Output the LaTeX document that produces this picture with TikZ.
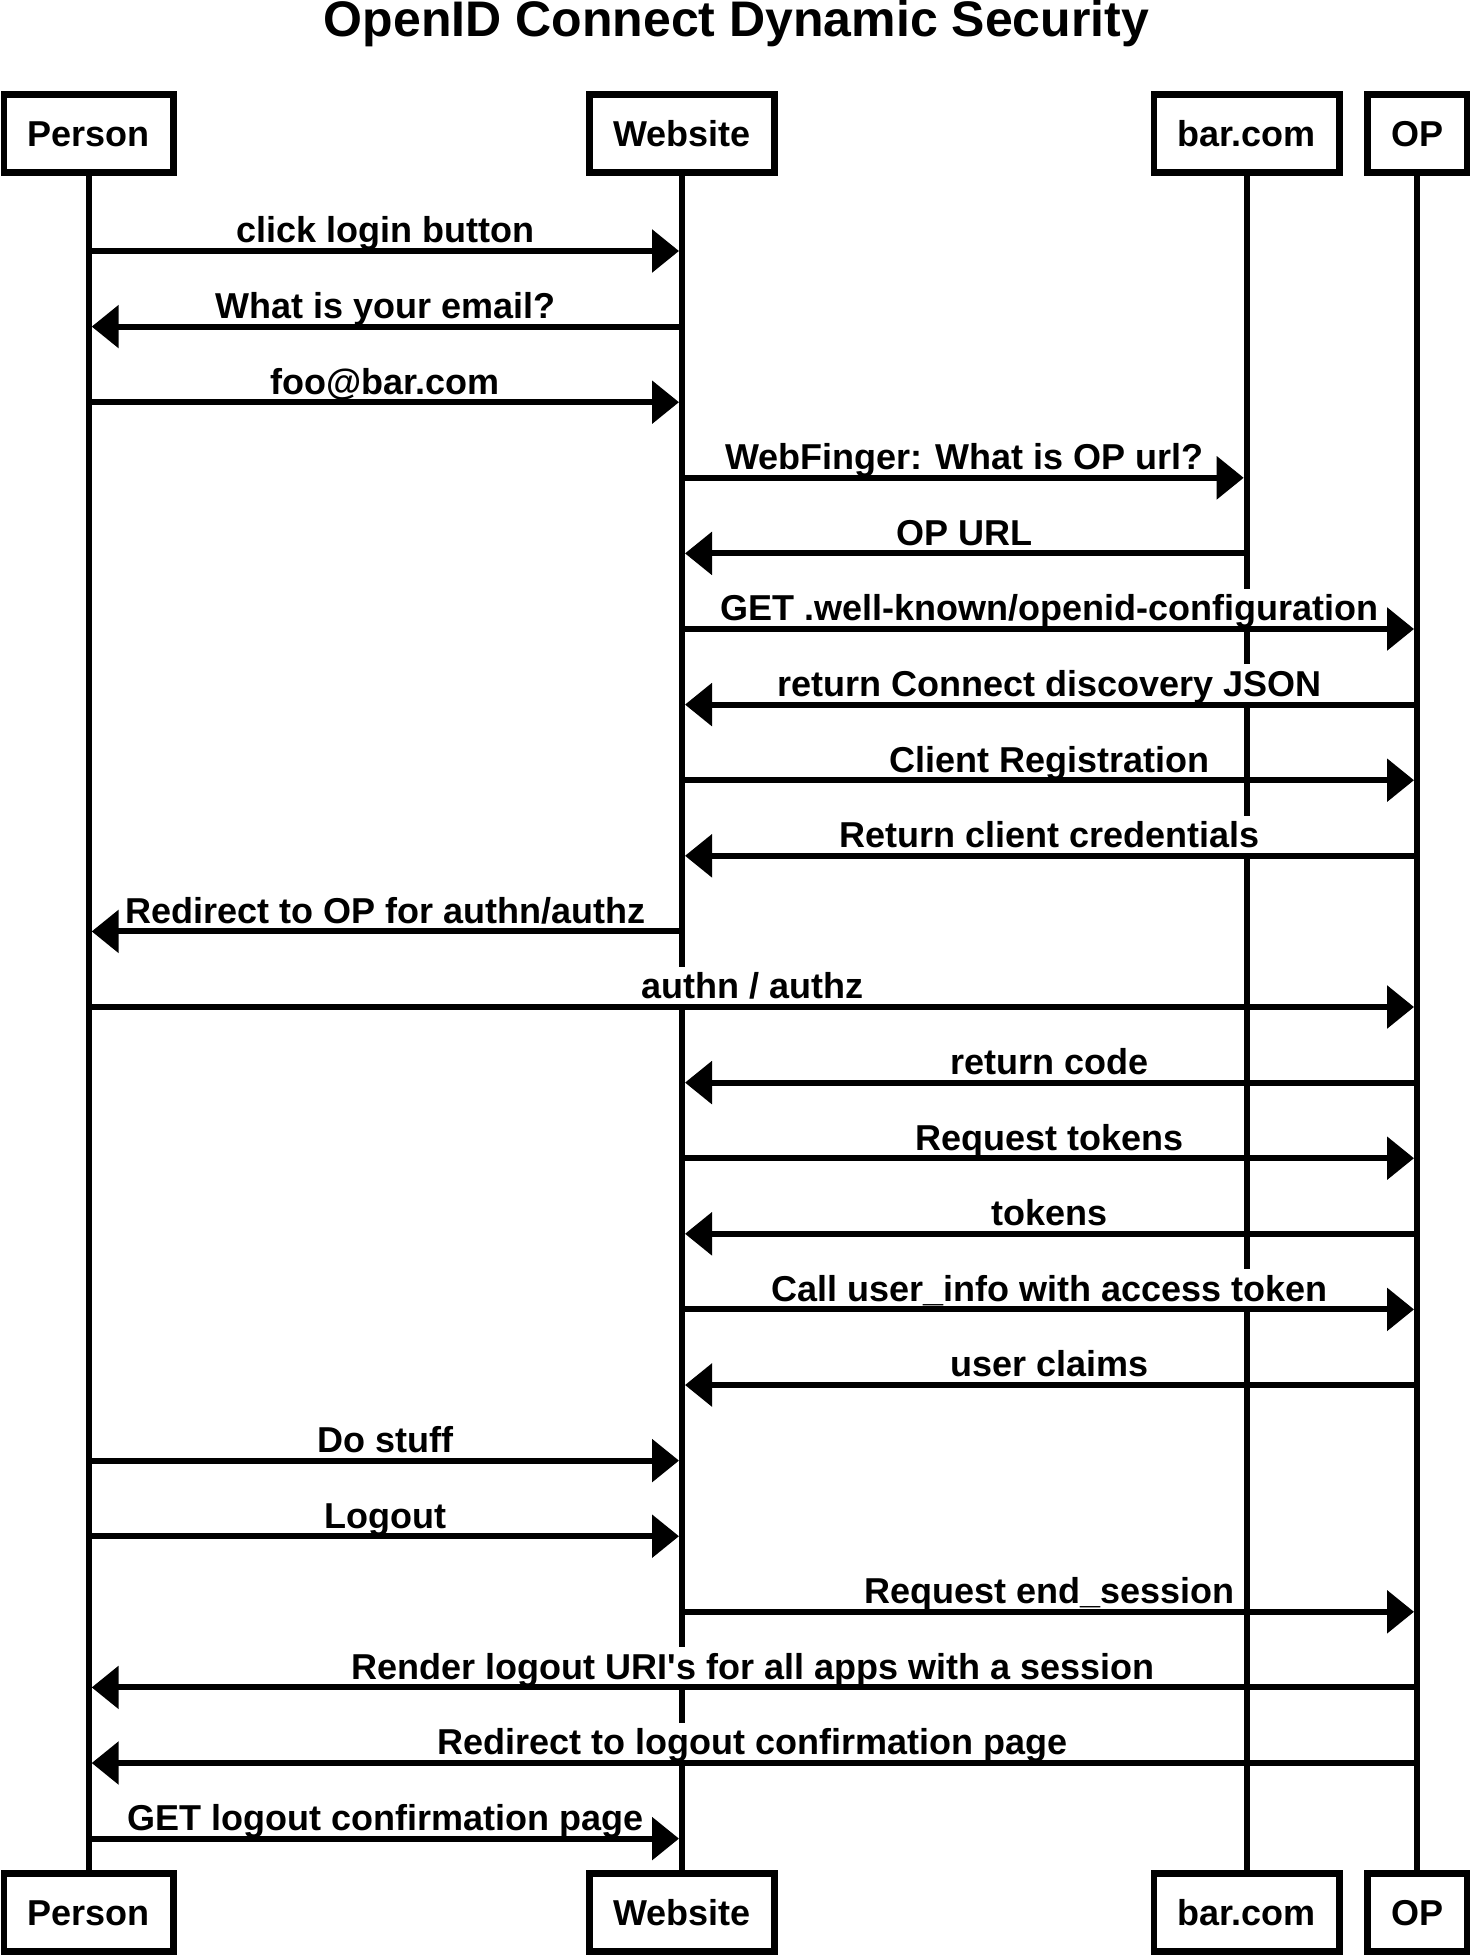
\documentclass[tikz,border=0pt]{standalone}
\usepackage{fontspec}
\setmainfont{Liberation Sans}
\usetikzlibrary{arrows.meta,calc}
\begin{document}
\begin{tikzpicture}[x=1pt,y=-1pt,
  actor/.style={draw,line width=6.5pt,fill=white,inner xsep=23.75pt,inner ysep=0pt,
    minimum height=78pt,text height=26pt,text depth=0pt,
    font=\fontsize{36}{40}\selectfont\bfseries},
  lifeline/.style={line width=6pt},
  lbl/.style={fill=white,inner xsep=3pt,inner ysep=0pt,text height=32pt,text depth=8pt,
    anchor=south,font=\fontsize{36}{40}\selectfont\bfseries},
  arr/.style={line width=6pt,-{Triangle[length=27pt,width=42pt]},shorten >=3pt},
]
\useasboundingbox (0,0) rectangle (1473,1956);

% title
\node[font=\fontsize{50}{55}\selectfont\bfseries,anchor=base,inner sep=0pt] (title)
  at (736.5,37) {OpenID Connect Dynamic Security};

% participants, top and bottom
\node[actor] (P) at (88.7,133.7) {Person};
\node[actor] (W) at (682,133.7) {Website};
\node[actor] (B) at (1246.7,133.7) {bar.com};
\node[actor] (O) at (1417,133.7) {OP};
\node[actor] (Pb) at (88.7,1912.5) {Person};
\node[actor] (Wb) at (682,1912.5) {Website};
\node[actor] (Bb) at (1246.7,1912.5) {bar.com};
\node[actor] (Ob) at (1417,1912.5) {OP};

% lifelines
\draw[lifeline] (P.south) -- (Pb.north);
\draw[lifeline] (W.south) -- (Wb.north);
\draw[lifeline] (B.south) -- (Bb.north);
\draw[lifeline] (O.south) -- (Ob.north);

% messages: row / sender / receiver / text
\foreach \i/\a/\b/\t in {
  1/P/W/{click login button},
  2/W/P/{What is your email?},
  3/P/W/{foo@bar.com},
  4/W/B/{WebFinger: What is OP url?},
  5/B/W/{OP URL},
  6/W/O/{GET .well-known/openid-configuration},
  7/O/W/{return Connect discovery JSON},
  8/W/O/{Client Registration},
  9/O/W/{Return client credentials},
  10/W/P/{Redirect to OP for authn/authz},
  11/P/O/{authn / authz},
  12/O/W/{return code},
  13/W/O/{Request tokens},
  14/O/W/{tokens},
  15/W/O/{Call user\_info with access token},
  16/O/W/{user claims},
  17/P/W/{Do stuff},
  18/P/W/{Logout},
  19/W/O/{Request end\_session},
  20/O/P/{Render logout URI\textquotesingle s for all apps with a session},
  21/O/P/{Redirect to logout confirmation page},
  22/P/W/{GET logout confirmation page}} {
  \pgfmathsetmacro\yy{251+75.6*(\i-1)}
  \coordinate (r\i) at (0,\yy);
  \node[lbl] (m\i) at ($(\a |- r\i)!0.5!(\b |- r\i)$) {\t};
  \draw[arr] (\a |- r\i) -- (\b |- r\i);
}
\end{tikzpicture}
\end{document}
